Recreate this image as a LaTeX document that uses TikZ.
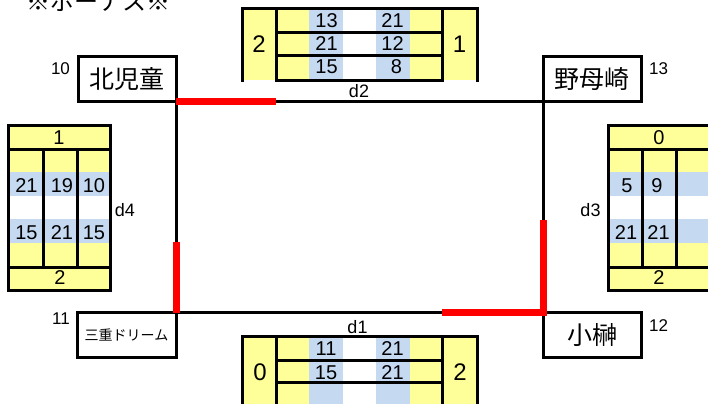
\documentclass[tikz,border=0pt]{standalone}
\usepackage{fontspec}
\setmainfont{Liberation Sans}
\newfontfamily\jp{Noto Sans CJK JP}
\definecolor{cellyellow}{RGB}{255,255,153}
\definecolor{cellblue}{RGB}{197,217,241}
\definecolor{linkred}{RGB}{255,0,0}
\tikzset{
  stationbox/.style={draw=black, line width=3bp, fill=white, minimum width=98bp, minimum height=45bp, inner sep=0pt, outer sep=0pt, font=\jp\fontsize{25bp}{27bp}\selectfont},
  smallstation/.style={stationbox, font=\jp\fontsize{14bp}{16bp}\selectfont},
  wire/.style={draw=black, line width=3bp},
  redwire/.style={draw=linkred, line width=7bp, line join=miter},
  grid/.style={draw=black, line width=3bp, line cap=rect},
  num/.style={inner sep=0pt, font=\fontsize{20bp}{22bp}\selectfont},
  bignum/.style={inner sep=0pt, font=\fontsize{24bp}{26bp}\selectfont},
  dlabel/.style={inner sep=0pt, font=\fontsize{18bp}{20bp}\selectfont},
  idlabel/.style={inner sep=0pt, font=\fontsize{17bp}{19bp}\selectfont},
}
\begin{document}
\begin{tikzpicture}[x=1bp,y=-1bp]
\useasboundingbox (0,0) rectangle (708,403);
\clip (0,0) rectangle (708,403);
\fill[white] (0,0) rectangle (708,403);

% partially visible title (cut by the top edge, as in the reference)
\node[inner sep=0pt, anchor=base west, font=\jp\fontsize{24bp}{26bp}\selectfont] (title) at (26,10) {※ボーナス※};

% ---------- top table (d2)
\fill[cellyellow] (242,8) rectangle (477,80);
\fill[cellblue] (309,8) rectangle (343,80);
\fill[white] (343,8) rectangle (376,80);
\fill[cellblue] (376,8) rectangle (410,80);
\draw[grid] (242,80) -- (242,8) -- (477,8) -- (477,80);
\draw[grid] (276,8) -- (276,80) (442,8) -- (442,80);
\draw[grid] (276,32) -- (442,32) (276,55) -- (442,55) (276,80) -- (442,80);
\node[bignum] (t2) at (259,44) {2};
\node[bignum] (t1) at (459.5,44) {1};
\node[num] (ta1) at (326.5,20.5) {13};
\node[num] (ta2) at (326.5,43.5) {21};
\node[num] (ta3) at (326.5,66.5) {15};
\node[num] (tb1) at (392.5,20.5) {21};
\node[num] (tb2) at (392.5,43.5) {12};
\node[num] (tb3) at (396.5,66.5) {8};

% ---------- bottom table (d1)
\fill[cellyellow] (242,336) rectangle (477,410);
\fill[cellblue] (309,336) rectangle (343,410);
\fill[white] (343,336) rectangle (376,410);
\fill[cellblue] (376,336) rectangle (410,410);
\draw[grid] (242,410) -- (242,336) -- (477,336) -- (477,410);
\draw[grid] (276,336) -- (276,410) (442,336) -- (442,410);
\draw[grid] (276,360) -- (442,360) (276,382) -- (442,382);
\node[bignum] (b0) at (260,372) {0};
\node[bignum] (b2) at (460,372) {2};
\node[num] (ba1) at (326,349) {11};
\node[num] (ba2) at (326,372.5) {15};
\node[num] (bb1) at (392.5,349) {21};
\node[num] (bb2) at (392.5,372.5) {21};

% ---------- left table (d4)
\fill[cellyellow] (8,125) rectangle (110,290);
\fill[cellblue] (8,172) rectangle (110,196);
\fill[white] (8,196) rectangle (110,219);
\fill[cellblue] (8,219) rectangle (110,243);
\draw[grid] (8,125) rectangle (110,290);
\draw[grid] (8,149) -- (110,149) (8,267) -- (110,267);
\draw[grid] (43,149) -- (43,267) (77,149) -- (77,267);
\node[num] (l1) at (59,137.5) {1};
\node[num] (l2) at (60,277.5) {2};
\node[num] (la1) at (26.5,185.5) {21};
\node[num] (la2) at (62,185.5) {19};
\node[num] (la3) at (94,185.5) {10};
\node[num] (lb1) at (26.5,232.5) {15};
\node[num] (lb2) at (62,232.5) {21};
\node[num] (lb3) at (94,232.5) {15};

% ---------- right table (d3)
\fill[cellyellow] (608,125) rectangle (710,290);
\fill[cellblue] (608,172) rectangle (710,196);
\fill[white] (608,196) rectangle (710,219);
\fill[cellblue] (608,219) rectangle (710,243);
\draw[grid] (608,125) rectangle (710,290);
\draw[grid] (608,149) -- (710,149) (608,267) -- (710,267);
\draw[grid] (642,149) -- (642,267) (676,149) -- (676,267);
\node[num] (r0) at (659,137.5) {0};
\node[num] (r2) at (659,277.5) {2};
\node[num] (ra1) at (627,185.5) {5};
\node[num] (ra2) at (657,185.5) {9};
\node[num] (rb1) at (626,232.5) {21};
\node[num] (rb2) at (658.5,232.5) {21};

% ---------- corner points of the loop
\coordinate (kse) at (176,101.5);
\coordinate (nsw) at (543,101.5);
\coordinate (mne) at (176,312.5);
\coordinate (ksw) at (543,312.5);

% ---------- stations
\node[stationbox, anchor=south east] (kita) at (kse) {北児童};
\node[stationbox, anchor=south west] (nomo) at (nsw) {野母崎};
\node[smallstation, anchor=north east, minimum width=99bp] (mie) at (mne) {三重ドリーム};
\node[stationbox, anchor=north west] (kosa) at (ksw) {小榊};

\draw[wire] (kita.south east) -- (nomo.south west);
\draw[wire] (kita.south east) -- (mie.north east);
\draw[wire] (nomo.south west) -- (kosa.north west);
\draw[wire] (mie.north east) -- (kosa.north west);

\coordinate (rtop) at ([xshift=100bp]kita.south east);
\coordinate (rleft) at ([yshift=71bp]mie.north east);
\coordinate (rright) at ([yshift=93bp]kosa.north west);
\coordinate (rbottom) at ([xshift=-101bp]kosa.north west);
\draw[redwire] (kita.south east) -- (rtop);
\draw[redwire] (rleft) -- (mie.north east);
\draw[redwire] (rright) -- (kosa.north west) -- (rbottom);

\node[idlabel] (n10) at (60.5,69) {10};
\node[idlabel] (n13) at (658.5,68.5) {13};
\node[idlabel] (n11) at (61,319) {11};
\node[idlabel] (n12) at (658.5,325.5) {12};

\node[dlabel] (d2) at (359,91.5) {d2};
\node[dlabel] (d1) at (357.5,327.5) {d1};
\node[dlabel] (d4) at (125,210) {d4};
\node[dlabel] (d3) at (590.5,210) {d3};
\end{tikzpicture}
\end{document}
